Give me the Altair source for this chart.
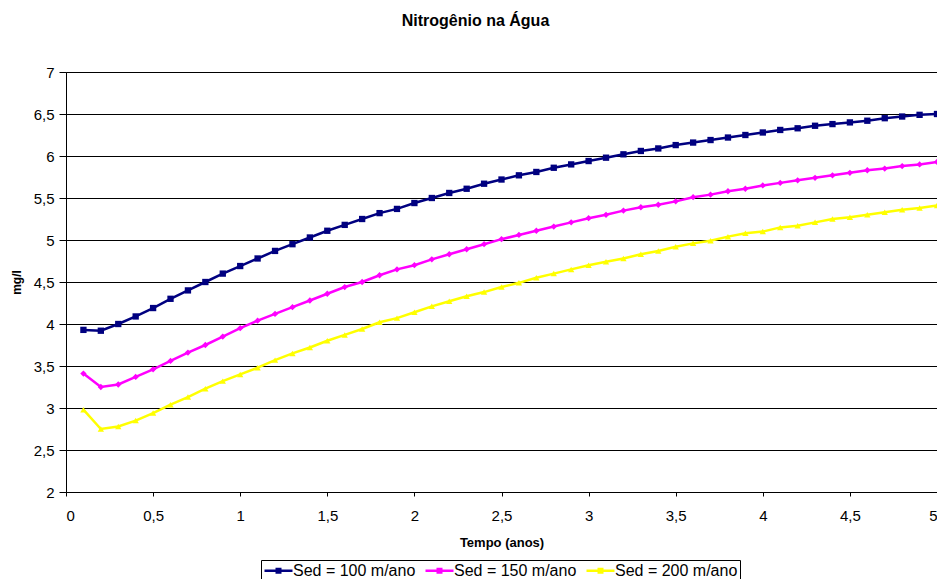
import altair as alt
import pandas as pd

tempo = [0.1, 0.2, 0.3, 0.4, 0.5, 0.6, 0.7, 0.8, 0.9, 1.0,
         1.1, 1.2, 1.3, 1.4, 1.5, 1.6, 1.7, 1.8, 1.9, 2.0,
         2.1, 2.2, 2.3, 2.4, 2.5, 2.6, 2.7, 2.8, 2.9, 3.0,
         3.1, 3.2, 3.3, 3.4, 3.5, 3.6, 3.7, 3.8, 3.9, 4.0,
         4.1, 4.2, 4.3, 4.4, 4.5, 4.6, 4.7, 4.8, 4.9, 5.0]

sed100 = [3.93, 3.92, 4.00, 4.09, 4.19, 4.30, 4.40, 4.50, 4.60, 4.69,
          4.78, 4.87, 4.95, 5.03, 5.11, 5.18, 5.25, 5.32, 5.37, 5.44,
          5.50, 5.56, 5.61, 5.67, 5.72, 5.77, 5.81, 5.86, 5.90, 5.94,
          5.98, 6.02, 6.06, 6.09, 6.13, 6.16, 6.19, 6.22, 6.25, 6.28,
          6.31, 6.33, 6.36, 6.38, 6.40, 6.42, 6.45, 6.47, 6.49, 6.50]

sed150 = [3.41, 3.25, 3.28, 3.37, 3.46, 3.56, 3.66, 3.75, 3.85, 3.95,
          4.04, 4.12, 4.20, 4.28, 4.36, 4.44, 4.50, 4.58, 4.65, 4.70,
          4.77, 4.83, 4.89, 4.95, 5.01, 5.06, 5.11, 5.16, 5.21, 5.26,
          5.30, 5.35, 5.39, 5.42, 5.46, 5.51, 5.54, 5.58, 5.61, 5.65,
          5.68, 5.71, 5.74, 5.77, 5.80, 5.83, 5.85, 5.88, 5.90, 5.93]

sed200 = [2.98, 2.75, 2.78, 2.85, 2.94, 3.04, 3.13, 3.23, 3.32, 3.40,
          3.48, 3.57, 3.65, 3.72, 3.80, 3.87, 3.94, 4.02, 4.07, 4.14,
          4.21, 4.27, 4.33, 4.38, 4.44, 4.49, 4.55, 4.60, 4.65, 4.70,
          4.74, 4.78, 4.83, 4.87, 4.92, 4.96, 4.99, 5.04, 5.08, 5.10,
          5.15, 5.17, 5.21, 5.25, 5.27, 5.30, 5.33, 5.36, 5.38, 5.41]

series = ["Sed = 100 m/ano", "Sed = 150 m/ano", "Sed = 200 m/ano"]
colors = ["#000080", "#FF00FF", "#FFFF00"]
shapes = ["square", "diamond", "triangle-up"]

x_ticks = [0, 0.5, 1, 1.5, 2, 2.5, 3, 3.5, 4, 4.5, 5]
y_ticks = [2, 2.5, 3, 3.5, 4, 4.5, 5, 5.5, 6, 6.5, 7]

rows = []
for name, vals in zip(series, [sed100, sed150, sed200]):
    for t, v in zip(tempo, vals):
        rows.append({"t": t, "v": v, "serie": name, "forma": name})
df = pd.DataFrame(rows)

FONT = "Liberation Sans"
comma = "replace(format(datum.value, ''), '.', ',')"

x_enc = alt.X("t:Q", scale=alt.Scale(domain=[0, 5], nice=False, zero=False),
              axis=alt.Axis(values=x_ticks, labelExpr=comma, title="Tempo (anos)",
                            grid=False, domainColor="black", tickColor="black",
                            tickSize=4, labelPadding=12, labelFontSize=15,
                            labelFont=FONT, labelColor="black",
                            titleFont=FONT, titleFontSize=13, titleFontWeight="bold",
                            titleColor="black", titlePadding=13))
y_enc = alt.Y("v:Q", scale=alt.Scale(domain=[2, 7], nice=False, zero=False),
              axis=alt.Axis(values=y_ticks, labelExpr=comma, title="mg/l",
                            grid=True, gridColor="black", gridWidth=1,
                            domainColor="black", tickColor="black", tickSize=7,
                            labelPadding=5, labelFontSize=15, labelFont=FONT,
                            labelColor="black", titleFont=FONT, titleFontSize=12,
                            titleFontWeight="bold", titleColor="black",
                            titleX=-50, titleY=210, titleAlign="center",
                            titleBaseline="middle"))

legend = alt.Legend(title=None, orient="none", direction="horizontal",
                    legendX=195, legendY=488,
                    strokeColor="black", padding=2,
                    labelFont=FONT, labelFontSize=16,
                    labelColor="black", labelOffset=6,
                    columnPadding=4, symbolOffset=7,
                    symbolType="M-2,0H2M-0.25,-0.25H0.25V0.25H-0.25Z",
                    symbolSize=196, symbolStrokeWidth=2.5)

color_scale = alt.Scale(domain=series, range=colors)

lines = alt.Chart(df).mark_line(strokeWidth=2.5, clip=False).encode(
    x=x_enc, y=y_enc,
    color=alt.Color("serie:N", scale=color_scale, legend=legend),
)
points = alt.Chart(df).mark_point(filled=True, size=40, opacity=1, clip=False).encode(
    x=x_enc, y=y_enc,
    color=alt.Color("serie:N", scale=color_scale, legend=None),
    shape=alt.Shape("forma:N", scale=alt.Scale(domain=series, range=shapes), legend=None),
)

chart = alt.layer(lines, points).resolve_legend(
    color="independent", shape="independent"
).properties(
    width=871, height=420,
    title=alt.TitleParams("Nitrogênio na Água", font=FONT, fontSize=16,
                          fontWeight="bold", color="black", anchor="middle",
                          dx=-26, offset=36),
    autosize=alt.AutoSizeParams(type="none"),
    padding={"left": 58, "top": 64, "right": 0, "bottom": 87},
    background="white",
).configure_view(stroke="#808080", strokeWidth=1)

chart.save("out.html", embed_options={"renderer": "svg", "actions": False})
